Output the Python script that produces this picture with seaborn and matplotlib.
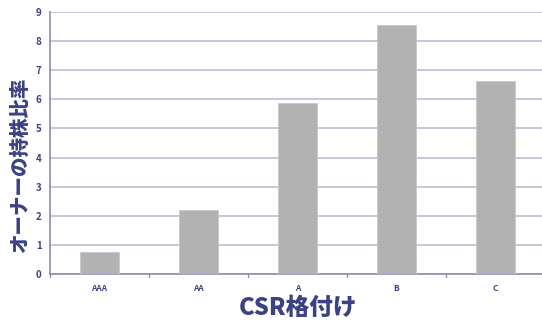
import seaborn as sns
import matplotlib.pyplot as plt
import pandas as pd

ratings = ['AAA', 'AA', 'A', 'B', 'C']
owner_share = [0.75, 2.2, 5.88, 8.55, 6.62]

df = pd.DataFrame({'rating': ratings, 'share': owner_share})

sns.set_style('white')
plt.rcParams['font.family'] = ['Noto Sans CJK JP', 'DejaVu Sans']

navy = '#3b4283'
axis_col = '#8c8cb8'
grid_col = '#bdbdd4'

fig = plt.figure(figsize=(5.42, 3.24), dpi=100)
ax = fig.add_axes([50 / 542, 50 / 324, 495 / 542, 262 / 324])

sns.barplot(data=df, x='rating', y='share', color='#b2b2b2', width=0.4,
            saturation=1, edgecolor='#c8c8c8', linewidth=0.6, ax=ax, zorder=3)

ax.set_ylim(0, 9)
ax.set_yticks(range(0, 10))
ax.set_xlim(-0.5, 4.5)
ax.yaxis.grid(True, color=grid_col, linewidth=1.2, zorder=0)
ax.set_axisbelow(True)

for s in ['top', 'right']:
    ax.spines[s].set_visible(False)
for s in ['left', 'bottom']:
    ax.spines[s].set_color(axis_col)
    ax.spines[s].set_linewidth(1.2)

ax.tick_params(axis='y', length=3, color=axis_col, labelsize=7, labelcolor=navy, pad=3)
ax.tick_params(axis='x', length=0, labelsize=6, labelcolor=navy, pad=7)
for lbl in ax.get_xticklabels() + ax.get_yticklabels():
    lbl.set_fontweight('bold')

# x tick marks sit at category boundaries
for b in [-0.5, 0.5, 1.5, 2.5, 3.5]:
    ax.plot([b, b], [0, -0.1], color=axis_col, lw=1, clip_on=False)

ax.set_xlabel('CSR格付け', fontsize=17, fontweight='heavy', color=navy, labelpad=2)
ax.set_ylabel('オーナーの持株比率', fontsize=14, fontweight='heavy', color=navy)
ax.yaxis.set_label_coords(-0.04, 0.415)

fig.savefig('out.png', dpi=100)
